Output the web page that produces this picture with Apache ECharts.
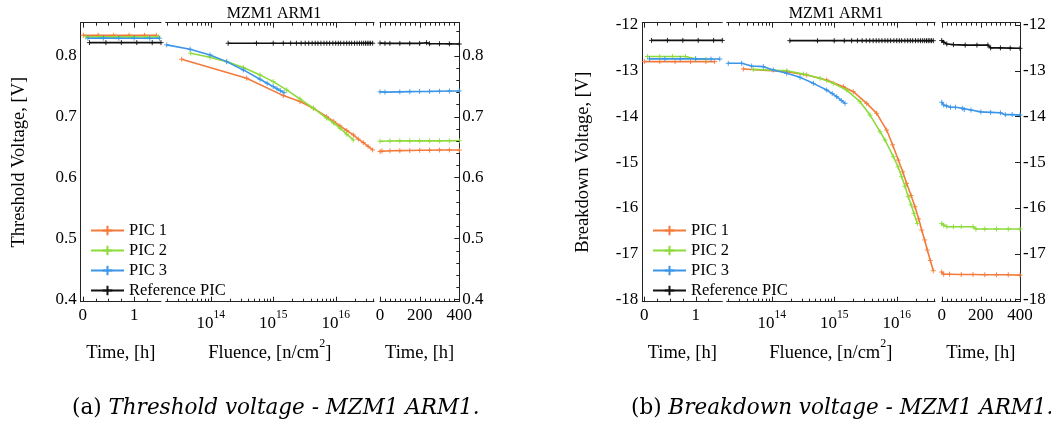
<!DOCTYPE html>
<html>
<head>
<meta charset="utf-8">
<script src="https://cdn.jsdelivr.net/npm/echarts@6/dist/echarts.min.js"></script>
<style>
  html, body { margin: 0; padding: 0; background: #fff; }
  #main { width: 1051px; height: 432px; }
</style>
</head>
<body>
<div id="main"></div>
<script>
// ---------- series names ----------
const seriesNames = ['PIC 1', 'PIC 2', 'PIC 3', 'Reference PIC'];

// ---------- (a) threshold voltage [V] ----------
// before irradiation: [time h, V]
const thrPic1Pre = [[0.01, 0.8334], [0.3, 0.8334], [0.6, 0.8333], [0.9, 0.8334], [1.2, 0.8333], [1.43, 0.8333]];
const thrPic2Pre = [[0.06, 0.8307], [0.35, 0.8308], [0.65, 0.8307], [0.95, 0.8307], [1.25, 0.8306], [1.47, 0.8307]];
const thrPic3Pre = [[0.1, 0.8285], [0.4, 0.8286], [0.7, 0.8285], [1.0, 0.8285], [1.3, 0.8285], [1.49, 0.8285]];
const thrRefPre  = [[0.13, 0.8213], [0.45, 0.8213], [0.75, 0.8213], [1.05, 0.8213], [1.35, 0.8213], [1.52, 0.8213]];
// during irradiation: [fluence n/cm2, V]
const thrPic1Flu = [[3.43e13, 0.7941], [3.76e14, 0.7629], [1.45e15, 0.7343], [2.68e15, 0.7245], [4.39e15, 0.7136],
  [7.17e15, 0.6998], [9.3e15, 0.692], [1.17e16, 0.6846], [1.5e16, 0.677], [1.91e16, 0.6698], [2.3e16, 0.663],
  [2.77e16, 0.6571], [3.3e16, 0.651], [3.9e16, 0.6452]];
const thrPic2Flu = [[4.78e13, 0.8039], [9.75e13, 0.7974], [1.80e14, 0.7901], [3.33e14, 0.7803], [6.15e14, 0.7683],
  [1.0e15, 0.7573], [1.64e15, 0.7437], [2.68e15, 0.7289], [4.39e15, 0.7136], [7.17e15, 0.6972], [9.3e15, 0.689],
  [1.17e16, 0.6808], [1.5e16, 0.671], [1.91e16, 0.6616]];
const thrPic3Flu = [[1.975e13, 0.8176], [4.67e13, 0.8105], [9.75e13, 0.8011], [1.80e14, 0.7901], [3.33e14, 0.7765],
  [6.15e14, 0.7612], [8.0e14, 0.7545], [1.0e15, 0.7491], [1.15e15, 0.7455], [1.3e15, 0.7425], [1.49e15, 0.7392]];
const thrRefFlu = [[1.9e14, 0.8203], [5.4e14, 0.8203], [1.0e15, 0.8203], [1.45e15, 0.8203], [1.9e15, 0.8203],
  [2.35e15, 0.8203], [2.8e15, 0.8203], [3.25e15, 0.8203], [3.7e15, 0.8203], [4.2e15, 0.8203], [4.7e15, 0.8203],
  [5.2e15, 0.8203], [5.8e15, 0.8203], [6.5e15, 0.8203], [7.2e15, 0.8203], [8.0e15, 0.8203], [9.0e15, 0.8203],
  [1.0e16, 0.8203], [1.1e16, 0.8203], [1.2e16, 0.8203], [1.35e16, 0.8203], [1.5e16, 0.8203], [1.65e16, 0.8203],
  [1.8e16, 0.8203], [2.0e16, 0.8203], [2.2e16, 0.8203], [2.4e16, 0.8203], [2.6e16, 0.8203], [2.8e16, 0.8203],
  [3.0e16, 0.8203], [3.2e16, 0.8203], [3.4e16, 0.8203], [3.6e16, 0.8203], [3.9e16, 0.8203]];
// after irradiation: [time h, V]
const thrPic1Post = [[0, 0.6425], [10, 0.6435], [50, 0.6438], [100, 0.644], [150, 0.6442], [200, 0.6445], [250, 0.6447], [300, 0.645], [350, 0.645], [400, 0.645]];
const thrPic2Post = [[0, 0.6595], [50, 0.6598], [100, 0.66], [150, 0.66], [200, 0.66], [250, 0.66], [300, 0.66], [350, 0.6601], [400, 0.6602]];
const thrPic3Post = [[0, 0.7405], [25, 0.740], [100, 0.7405], [150, 0.7408], [200, 0.741], [250, 0.7412], [300, 0.7415], [350, 0.7418], [400, 0.742]];
const thrRefPost  = [[0, 0.8205], [25, 0.820], [50, 0.820], [100, 0.820], [150, 0.820], [200, 0.820], [235, 0.8212], [250, 0.8195], [300, 0.8195], [350, 0.8193], [400, 0.819]];

// ---------- (b) breakdown voltage [V] ----------
const bdPic1Pre = [[0.0, -12.80], [0.3, -12.80], [0.6, -12.80], [0.9, -12.80], [1.2, -12.80], [1.37, -12.80]];
const bdPic2Pre = [[0.06, -12.69], [0.3, -12.69], [0.55, -12.69], [0.8, -12.69], [1.0, -12.74], [1.2, -12.75]];
const bdPic3Pre = [[0.1, -12.74], [0.4, -12.74], [0.7, -12.74], [1.0, -12.74], [1.3, -12.745], [1.47, -12.745]];
const bdRefPre  = [[0.14, -12.337], [0.45, -12.337], [0.75, -12.337], [1.05, -12.337], [1.35, -12.337], [1.52, -12.337]];
const bdPic1Flu = [[3.52e13, -12.962], [1.74e14, -13.021], [3.63e14, -13.094], [7.58e14, -13.203], [1.40e15, -13.349],
  [2.02e15, -13.458], [3.31e15, -13.713], [4.78e15, -13.932], [6.91e15, -14.297], [8.6e15, -14.62], [1.06e16, -14.953],
  [1.25e16, -15.21], [1.44e16, -15.463], [1.7e16, -15.73], [1.96e16, -15.974], [2.25e16, -16.24], [2.51e16, -16.484],
  [2.8e16, -16.70], [3.09e16, -16.921], [3.45e16, -17.15], [3.85e16, -17.373]];
const bdPic2Flu = [[5.08e13, -12.970], [1.74e14, -12.999], [3.21e14, -13.072], [5.93e14, -13.166], [9.68e14, -13.276],
  [1.58e15, -13.422], [2.59e15, -13.677], [3.74e15, -13.969], [5.41e15, -14.333], [6.50e15, -14.515], [8.83e15, -14.880],
  [1.05e16, -15.10], [1.20e16, -15.317], [1.36e16, -15.53], [1.53e16, -15.755], [1.7e16, -15.93], [1.89e16, -16.119],
  [2.14e16, -16.338]];
const bdPic3Flu = [[2.02e13, -12.838], [3.31e13, -12.838], [4.78e13, -12.897], [7.35e13, -12.911], [1.06e14, -12.984],
  [1.74e14, -13.057], [2.84e14, -13.145], [4.64e14, -13.276], [7.58e14, -13.422], [9.3e14, -13.50], [1.095e15, -13.568],
  [1.3e15, -13.65], [1.49e15, -13.713]];
const bdRefFlu = [[1.95e14, -12.343], [5.4e14, -12.343], [1.0e15, -12.343], [1.45e15, -12.343], [1.9e15, -12.343],
  [2.35e15, -12.343], [2.8e15, -12.343], [3.25e15, -12.343], [3.7e15, -12.343], [4.2e15, -12.343], [4.7e15, -12.343],
  [5.2e15, -12.343], [5.8e15, -12.343], [6.5e15, -12.343], [7.2e15, -12.343], [8.0e15, -12.343], [9.0e15, -12.343],
  [1.0e16, -12.343], [1.1e16, -12.343], [1.2e16, -12.343], [1.35e16, -12.343], [1.5e16, -12.343], [1.65e16, -12.343],
  [1.8e16, -12.343], [2.0e16, -12.343], [2.2e16, -12.343], [2.4e16, -12.343], [2.6e16, -12.343], [2.8e16, -12.343],
  [3.0e16, -12.343], [3.2e16, -12.343], [3.4e16, -12.343], [3.6e16, -12.343], [3.85e16, -12.343]];
const bdPic1Post = [[0, -17.40], [10, -17.45], [40, -17.45], [100, -17.455], [160, -17.455], [220, -17.46], [280, -17.46], [340, -17.46], [400, -17.47]];
const bdPic2Post = [[0, -16.34], [10, -16.38], [26, -16.41], [60, -16.41], [100, -16.41], [160, -16.41], [175, -16.46], [220, -16.46], [280, -16.46], [340, -16.46], [400, -16.46]];
const bdPic3Post = [[0, -13.69], [10, -13.75], [25, -13.77], [45, -13.80], [70, -13.80], [105, -13.82], [115, -13.85], [150, -13.86], [200, -13.90], [250, -13.91], [300, -13.92], [325, -13.96], [360, -13.96], [400, -13.97]];
const bdRefPost  = [[0, -12.34], [10, -12.38], [26, -12.415], [60, -12.43], [120, -12.44], [180, -12.44], [236, -12.44], [250, -12.50], [300, -12.50], [350, -12.505], [400, -12.51]];

// ---------- ticks and labels ----------
const preTimeLabels = [0, 1];
const preTimeMinor = [0.25, 0.5, 0.75, 1.25];
const fluenceMajor = [1e14, 1e15, 1e16];
const fluenceMinor = [2e13, 3e13, 4e13, 5e13, 6e13, 7e13, 8e13, 9e13,
  2e14, 3e14, 4e14, 5e14, 6e14, 7e14, 8e14, 9e14,
  2e15, 3e15, 4e15, 5e15, 6e15, 7e15, 8e15, 9e15,
  2e16, 3e16, 4e16];
const postTimeLabels = [0, 200, 400];
const postTimeMinor = [25, 50, 75, 100, 125, 150, 175, 225, 250, 275, 300, 325, 350, 375];
const thrYLabels = [0.4, 0.5, 0.6, 0.7, 0.8];
const thrYMinor = [0.42, 0.44, 0.46, 0.48, 0.52, 0.54, 0.56, 0.58, 0.62, 0.64, 0.66, 0.68, 0.72, 0.74, 0.76, 0.78, 0.82, 0.84];
const bdYLabels = [-18, -17, -16, -15, -14, -13, -12];

// ---------- styling ----------
const FONT = 'Liberation Serif';
const AXIS_COLOR = '#222';
const COLORS = { 'PIC 1': '#f47a3a', 'PIC 2': '#8cdb3a', 'PIC 3': '#3b95e8', 'Reference PIC': '#111111' };
const CROSS = 'path://M0,5L10,5M5,0L5,10';
const PRE_RANGE = [-0.04, 1.52];
const FLU_RANGE = [1.905e13, 4.1e16];
const POST_RANGE = [0, 400];

const panels = [
  {
    title: 'MZM1 ARM1', titleX: 269,
    yRange: [0.396, 0.854], yLabels: thrYLabels, yMinor: thrYMinor,
    yFmt: v => v.toFixed(1), yName: 'Threshold Voltage, [V]', yNameGap: 52,
    grids: [[80.7, 80.3], [165.7, 208.3], [380, 79.3]],
    legendX: 90,
    sets: [[thrPic1Pre, thrPic1Flu, thrPic1Post], [thrPic2Pre, thrPic2Flu, thrPic2Post],
           [thrPic3Pre, thrPic3Flu, thrPic3Post], [thrRefPre, thrRefFlu, thrRefPost]]
  },
  {
    title: 'MZM1 ARM1', titleX: 831,
    yRange: [-18.05, -11.95], yLabels: bdYLabels, yMinor: [],
    yFmt: v => String(v), yName: 'Breakdown Voltage, [V]', yNameGap: 50,
    grids: [[642.3, 80], [726.7, 208.3], [941.7, 78.3]],
    legendX: 652,
    sets: [[bdPic1Pre, bdPic1Flu, bdPic1Post], [bdPic2Pre, bdPic2Flu, bdPic2Post],
           [bdPic3Pre, bdPic3Flu, bdPic3Post], [bdRefPre, bdRefFlu, bdRefPost]]
  }
];

const GRID_TOP = 22.7, GRID_H = 279;
const labelStyle = { fontFamily: FONT, fontSize: 17, color: '#000' };
const nameStyle = { fontFamily: FONT, fontSize: 18.5, color: '#000', lineHeight: 19 };
const captionRich = {
  r: { fontFamily: 'DejaVu Serif', fontSize: 21.5 },
  i: { fontFamily: 'DejaVu Serif', fontSize: 21.5, fontStyle: 'italic' }
};

// draws inward tick marks on the frame of one sub-plot, positioned through the axes
function tickRenderer(xExt, yExt) {
  return function (params, api) {
    const v = api.value(0), len = api.value(1), kind = api.value(2);
    const st = { stroke: AXIS_COLOR, lineWidth: 1 };
    if (kind === 0) {
      const b = api.coord([v, yExt[0]]), t = api.coord([v, yExt[1]]);
      const x = Math.round(b[0]) + 0.5;
      return { type: 'group', children: [
        { type: 'line', shape: { x1: x, y1: b[1], x2: x, y2: b[1] - len }, style: st },
        { type: 'line', shape: { x1: x, y1: t[1], x2: x, y2: t[1] + len }, style: st }
      ] };
    }
    const r = api.coord([xExt[1], v]);
    const y = Math.round(r[1]) + 0.5;
    return { type: 'line', shape: { x1: r[0], y1: y, x2: r[0] - len, y2: y }, style: st };
  };
}
function tickData(major, minor, kind) {
  return major.map(v => [v, 5, kind]).concat(minor.map(v => [v, 3, kind]));
}

const option = {
  animation: false,
  backgroundColor: '#fff',
  textStyle: { fontFamily: FONT },
  title: [], legend: [], grid: [], xAxis: [], yAxis: [], series: [],
  graphic: [
    { type: 'text', left: 72, top: 397, silent: true,
      style: { text: '{r|(a) }{i|Threshold voltage - MZM1 ARM1.}', fill: '#000', rich: captionRich } },
    { type: 'text', left: 631, top: 397, silent: true,
      style: { text: '{r|(b) }{i|Breakdown voltage - MZM1 ARM1.}', fill: '#000', rich: captionRich } }
  ]
};

const axisLine = { show: true, onZero: false, lineStyle: { color: AXIS_COLOR, width: 1 } };

panels.forEach((p, pi) => {
  option.title.push({
    text: p.title, left: p.titleX, top: 1, textAlign: 'center',
    textStyle: { fontFamily: FONT, fontSize: 16, fontWeight: 'normal', color: '#000' }
  });
  option.legend.push({
    left: p.legendX, top: 222, orient: 'vertical', selectedMode: false,
    itemWidth: 33, itemHeight: 12, itemGap: 3, padding: 0,
    textStyle: { fontFamily: FONT, fontSize: 16.5, color: '#000', lineHeight: 16 },
    data: seriesNames
  });

  p.grids.forEach(([left, width], s) => {
    const g = pi * 3 + s;
    option.grid.push({ left, top: GRID_TOP, width, height: GRID_H, containLabel: false, outerBoundsMode: 'none' });

    const xType = s === 1 ? 'log' : 'value';
    const xRange = s === 0 ? PRE_RANGE : s === 1 ? FLU_RANGE : POST_RANGE;
    const bottom = {
      type: xType, gridIndex: g, position: 'bottom', min: xRange[0], max: xRange[1],
      axisLine, axisTick: { show: false }, splitLine: { show: false }, minorTick: { show: false }
    };
    if (s === 1) {
      bottom.logBase = 10;
      bottom.axisLabel = {
        margin: 13,
        formatter: v => {
          const e = Math.log10(v), r = Math.round(e);
          return Math.abs(e - r) < 1e-6 ? '{b|10}{s|' + r + '}' : '';
        },
        rich: {
          b: { fontFamily: FONT, fontSize: 17, lineHeight: 17, verticalAlign: 'bottom', color: '#000' },
          s: { fontFamily: FONT, fontSize: 11.5, lineHeight: 11, verticalAlign: 'bottom', padding: [0, 0, 11, 0], color: '#000' }
        }
      };
      bottom.name = '{n|Fluence, [n/cm}{s|2}{n|]}';
      bottom.nameLocation = 'middle';
      bottom.nameGap = 42;
      bottom.nameTextStyle = {
        rich: {
          n: { fontFamily: FONT, fontSize: 18.5, lineHeight: 19, verticalAlign: 'bottom', color: '#000' },
          s: { fontFamily: FONT, fontSize: 12, lineHeight: 12, verticalAlign: 'bottom', padding: [0, 0, 13, 0], color: '#000' }
        }
      };
    } else {
      bottom.axisLabel = Object.assign({ margin: 5, customValues: s === 0 ? preTimeLabels : postTimeLabels }, labelStyle);
      bottom.name = 'Time, [h]';
      bottom.nameLocation = 'middle';
      bottom.nameGap = 42;
      bottom.nameTextStyle = nameStyle;
    }
    const top = {
      type: xType, gridIndex: g, position: 'top', min: xRange[0], max: xRange[1],
      axisLine, axisTick: { show: false }, axisLabel: { show: false }, splitLine: { show: false }
    };
    if (s === 1) top.logBase = 10;
    option.xAxis.push(bottom, top);

    const y = {
      type: 'value', gridIndex: g, min: p.yRange[0], max: p.yRange[1],
      splitLine: { show: false }, axisTick: { show: false }, axisLine
    };
    if (s === 0) {
      Object.assign(y, {
        position: 'left',
        axisLabel: Object.assign({ margin: 4, customValues: p.yLabels, formatter: p.yFmt }, labelStyle),
        name: p.yName, nameLocation: 'middle', nameGap: p.yNameGap, nameTextStyle: nameStyle
      });
    } else if (s === 1) {
      y.show = false;
    } else {
      Object.assign(y, {
        position: 'right',
        axisLabel: Object.assign({ margin: 3, customValues: p.yLabels, formatter: p.yFmt }, labelStyle)
      });
    }
    option.yAxis.push(y);

    // data lines
    seriesNames.forEach((name, k) => {
      const c = COLORS[name];
      option.series.push({
        type: 'line', name, xAxisIndex: 2 * g, yAxisIndex: g, data: p.sets[k][s],
        color: c, symbol: CROSS, symbolSize: 5, showSymbol: true,
        lineStyle: { width: 1.6, color: c },
        itemStyle: { color: c, borderColor: c, borderWidth: 0.9 },
        emphasis: { disabled: true }, silent: true, z: 2 + k * 0.1
      });
    });

    // frame tick marks
    let ticks;
    if (s === 0) ticks = tickData(preTimeLabels, preTimeMinor, 0);
    else if (s === 1) ticks = tickData(fluenceMajor, fluenceMinor, 0);
    else ticks = tickData(postTimeLabels, postTimeMinor, 0).concat(tickData(p.yLabels, p.yMinor, 1));
    option.series.push({
      type: 'custom', name: 'ticks', xAxisIndex: 2 * g, yAxisIndex: g, silent: true, z: 5, clip: false,
      renderItem: tickRenderer(xRange, p.yRange), data: ticks
    });
  });
});

const chart = echarts.init(document.getElementById('main'), null, { renderer: 'canvas' });
chart.setOption(option);
</script>
</body>
</html>
